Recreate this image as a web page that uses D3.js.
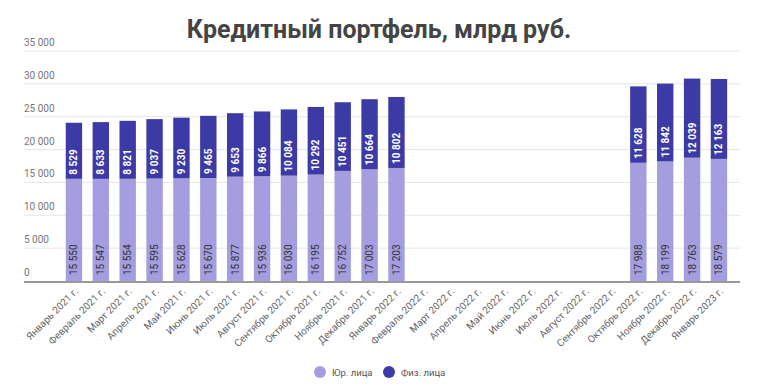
<!DOCTYPE html>
<html><head><meta charset="utf-8">
<script src="https://cdn.jsdelivr.net/npm/d3@7"></script>
<style>body{margin:0;background:#fff;font-family:Roboto,"Noto Sans",sans-serif;}</style>
</head><body><svg id="c" width="758" height="390"></svg>
<script>
const categories = ["Январь 2021 г.","Февраль 2021 г.","Март 2021 г.","Апрель 2021 г.","Май 2021 г.","Июнь 2021 г.","Июль 2021 г.","Август 2021 г.","Сентябрь 2021 г.","Октябрь 2021 г.","Ноябрь 2021 г.","Декабрь 2021 г.","Январь 2022 г.","Февраль 2022 г.","Март 2022 г.","Апрель 2022 г.","Май 2022 г.","Июнь 2022 г.","Июль 2022 г.","Август 2022 г.","Сентябрь 2022 г.","Октябрь 2022 г.","Ноябрь 2022 г.","Декабрь 2022 г.","Январь 2023 г."];
const yurValues = [15550,15547,15554,15595,15628,15670,15877,15936,16030,16195,16752,17003,17203,null,null,null,null,null,null,null,null,17988,18199,18763,18579];
const fizValues = [8529,8633,8821,9037,9230,9465,9653,9866,10084,10292,10451,10664,10802,null,null,null,null,null,null,null,null,11628,11842,12039,12163];
const yTicks = [0,5000,10000,15000,20000,25000,30000,35000];
const seriesNames = ["Юр. лица","Физ. лица"];
const colors = ["#a49de0","#3c3aa5"];
const title = "Кредитный портфель, млрд руб.";

const svg = d3.select("#c");
const fmt = v => d3.format(",")(v).replace(/,/g," ");
const x = d3.scaleBand().domain(categories).range([60.5, 732.4]).paddingInner(0.39).paddingOuter(0.195);
const y = d3.scaleLinear().domain([0,35000]).range([281,51]);

svg.append("text").attr("x",379).attr("y",38).attr("text-anchor","middle")
  .attr("font-size",25).attr("font-weight","bold").attr("fill","#444").text(title);

// grid
const g = svg.append("g");
yTicks.forEach(t=>{
  if(t>0) g.append("line").attr("x1",24).attr("x2",740).attr("y1",y(t)).attr("y2",y(t)).attr("stroke","#e6e6e6").attr("stroke-width",1);
  g.append("text").attr("x",24).attr("y",y(t)-5).attr("font-size",10).attr("fill","#777").text(fmt(t));
});

// bars
const data = categories.map((c,i)=>({c, a:yurValues[i], b:fizValues[i]}));
const bars = svg.append("g");
data.filter(d=>d.a!=null).forEach(d=>{
  const x0 = x(d.c), w = x.bandwidth(), cx = x0 + w/2;
  bars.append("rect").attr("x",x0).attr("width",w).attr("y",y(d.a)).attr("height",y(0)-y(d.a)).attr("fill",colors[0]);
  bars.append("rect").attr("x",x0).attr("width",w).attr("y",y(d.a+d.b)).attr("height",y(d.a)-y(d.a+d.b)).attr("fill",colors[1]);
  bars.append("text").attr("transform",`translate(${cx+3.5},${y(0)-6}) rotate(-90)`).attr("font-size",10)
    .attr("fill","#333").text(fmt(d.a));
  bars.append("text").attr("transform",`translate(${cx+3.5},${y(d.a)-4}) rotate(-90)`).attr("font-size",10)
    .attr("font-weight","bold").attr("fill","#fff").text(fmt(d.b));
});

// x axis
svg.append("line").attr("x1",24).attr("x2",740).attr("y1",282).attr("y2",282).attr("stroke","#777").attr("stroke-width",1.5);
const xa = svg.append("g").attr("transform","translate(0,282)").call(d3.axisBottom(x).tickSize(0).tickPadding(0));
xa.select(".domain").remove();
xa.selectAll("text").attr("font-size",10).attr("fill","#666").attr("font-family","Roboto")
  .attr("text-anchor","end").attr("dy",0).attr("transform","translate(5,10) rotate(-45)");

// legend
const lg = svg.append("g");
[[320,seriesNames[0],colors[0]],[389,seriesNames[1],colors[1]]].forEach(([lx,t,c])=>{
  lg.append("circle").attr("cx",lx).attr("cy",372).attr("r",6).attr("fill",c);
  lg.append("text").attr("x",lx+12).attr("y",375.5).attr("font-size",9.5).attr("fill","#555").text(t);
});
</script></body></html>
